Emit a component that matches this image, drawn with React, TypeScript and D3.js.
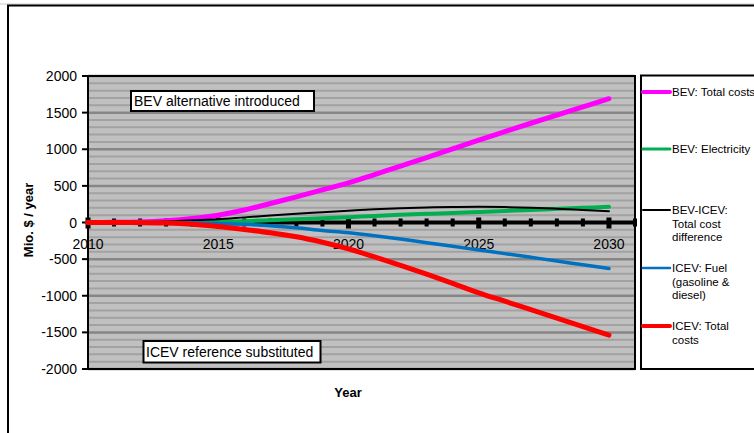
import React from "react";
import * as d3 from "d3";

const years = d3.range(2010, 2031);
const bevTotal = [0, 2, 8, 25, 55, 100, 170, 260, 350, 445, 540, 655, 770, 885, 1005, 1125, 1240, 1355, 1465, 1578, 1690];
const bevElectricity = [0, 0, 0, 1, 3, 8, 18, 30, 45, 58, 73, 90, 105, 118, 130, 143, 157, 171, 186, 200, 214];
const costDifference = [0, 0, 5, 15, 30, 45, 70, 95, 120, 140, 160, 180, 195, 205, 212, 214, 210, 200, 188, 172, 155];
const icevFuel = [0, 0, 0, -2, -5, -12, -25, -45, -73, -109, -140, -180, -225, -275, -325, -375, -425, -475, -525, -578, -628];
const icevTotal = [0, 0, -2, -8, -25, -55, -95, -140, -195, -270, -360, -470, -585, -705, -830, -960, -1075, -1190, -1305, -1420, -1538];

const yTicks = [2000, 1500, 1000, 500, 0, -500, -1000, -1500, -2000];
const xTickLabels = [2010, 2015, 2020, 2025, 2030];

const seriesList = [
  { name: ["BEV: Total costs"], values: bevTotal, color: "#FF00FF", width: 5 },
  { name: ["BEV: Electricity"], values: bevElectricity, color: "#00B050", width: 4 },
  { name: ["BEV-ICEV:", "Total cost", "difference"], values: costDifference, color: "#000000", width: 2 },
  { name: ["ICEV: Fuel", "(gasoline &", "diesel)"], values: icevFuel, color: "#0070C0", width: 3.5 },
  { name: ["ICEV: Total", "costs"], values: icevTotal, color: "#FF0000", width: 5 },
];
const legendY = [92, 149, 210, 268, 326];

const W = 754, H = 433;
const plot = { left: 88, right: 635, top: 76, bottom: 369 };

export default function App() {
  const x = d3.scaleLinear().domain([2010, 2031]).range([plot.left, plot.right]);
  const y = d3.scaleLinear().domain([-2000, 2000]).range([plot.bottom, plot.top]);
  const line = d3
    .line<number>()
    .x((_, i) => x(years[i]))
    .y((d) => y(d))
    .curve(d3.curveCatmullRom.alpha(0.5));
  const minor = d3.range(-2000, 2001, 100).filter((v) => v % 500 !== 0);
  const major = d3.range(-2000, 2001, 500);
  const allYears = d3.range(2010, 2032);
  const y0 = y(0);
  const font = "'Liberation Sans', Arial, sans-serif";

  return (
    <svg width={W} height={H} style={{ position: "absolute", left: 0, top: 0, background: "#fff" }} fontFamily={font}>
      {/* outer frame */}
      <line x1={0} x2={W} y1={4} y2={4} stroke="#c8c8c8" strokeWidth={1} />
      <rect x={8} y={5.5} width={W} height={H} fill="none" stroke="#000" strokeWidth={2} />

      {/* plot background */}
      <rect x={plot.left} y={plot.top} width={plot.right - plot.left} height={plot.bottom - plot.top} fill="#c0c0c0" />
      {minor.map((v) => (
        <line key={"mi" + v} x1={plot.left} x2={plot.right} y1={y(v)} y2={y(v)} stroke="#a2a2a2" strokeWidth={2} />
      ))}
      {major.map((v) => (
        <line key={"ma" + v} x1={plot.left} x2={plot.right} y1={y(v)} y2={y(v)} stroke="#868686" strokeWidth={2.5} />
      ))}
      <rect x={plot.left} y={plot.top} width={plot.right - plot.left} height={plot.bottom - plot.top} fill="none" stroke="#000" strokeWidth={2} />

      {/* y axis ticks & labels */}
      {yTicks.map((v) => (
        <g key={"yt" + v}>
          <line x1={82} x2={plot.left} y1={y(v)} y2={y(v)} stroke="#000" strokeWidth={2} />
          <text x={77} y={y(v) + 5} textAnchor="end" fontSize={14} fill="#000">
            {v}
          </text>
        </g>
      ))}

      {/* x axis at zero */}
      <line x1={plot.left} x2={plot.right} y1={y0} y2={y0} stroke="#000" strokeWidth={4} />
      {allYears.map((yr) => {
        const big = (yr - 2010) % 5 === 0;
        const w = big ? 5 : 4;
        const up = big ? 5 : 4;
        const dn = big ? 6 : 4;
        return <rect key={"xt" + yr} x={x(yr) - w / 2} y={y0 - up} width={w} height={up + dn} fill="#000" />;
      })}
      {xTickLabels.map((yr) => (
        <text key={"xl" + yr} x={x(yr)} y={249} textAnchor="middle" fontSize={14} fill="#000">
          {yr}
        </text>
      ))}

      {/* series */}
      {seriesList.map((s) => (
        <path
          key={s.name.join(" ")}
          d={line(s.values) || ""}
          fill="none"
          stroke={s.color}
          strokeWidth={s.width}
          strokeLinecap="round"
          strokeLinejoin="round"
        />
      ))}

      {/* annotations */}
      <rect x={131} y={91} width={183} height={20} fill="#fff" stroke="#000" strokeWidth={2} />
      <text x={134} y={106} fontSize={14} fill="#000">BEV alternative introduced</text>
      <rect x={143.5} y={341} width={177} height={21.5} fill="#fff" stroke="#000" strokeWidth={2} />
      <text x={146} y={357} fontSize={14} fill="#000">ICEV reference substituted</text>

      {/* axis titles */}
      <text x={348} y={397} textAnchor="middle" fontSize={13} fontWeight="bold" fill="#000">Year</text>
      <text transform={`translate(33,220) rotate(-90)`} textAnchor="middle" fontSize={13} fontWeight="bold" fill="#000">
        Mio. $ / year
      </text>

      {/* legend */}
      <rect x={641} y={75.5} width={140} height={293.5} fill="#fff" stroke="#000" strokeWidth={2} />
      {seriesList.map((s, i) => (
        <g key={"lg" + i}>
          <line x1={643} x2={670} y1={legendY[i]} y2={legendY[i]} stroke={s.color} strokeWidth={Math.max(s.width - 1, 2)} strokeLinecap="round" />
          {s.name.map((t, j) => (
            <text key={j} x={672} y={legendY[i] + 4 + j * 13.5} fontSize={11.5} fill="#000">
              {t}
            </text>
          ))}
        </g>
      ))}
    </svg>
  );
}
